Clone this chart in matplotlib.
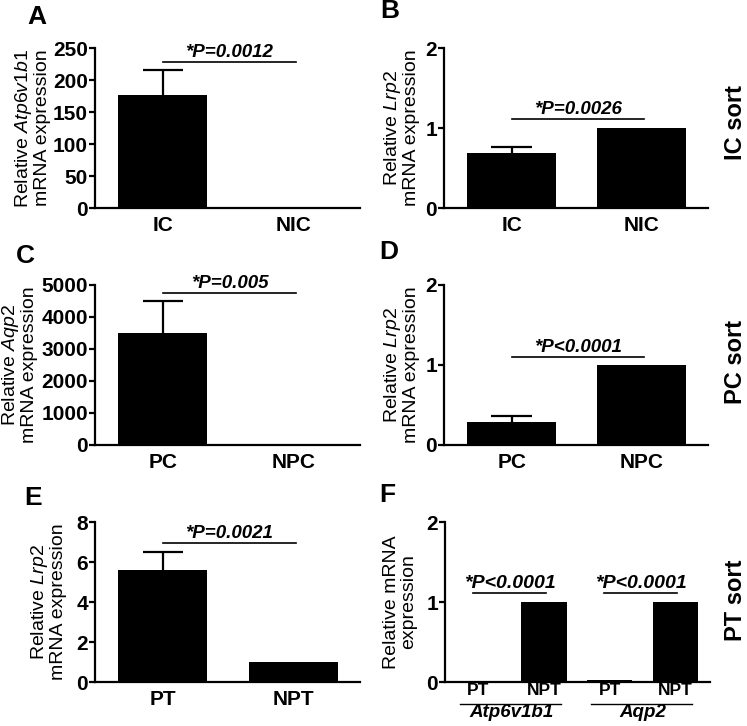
import matplotlib
matplotlib.use('Agg')
import matplotlib.pyplot as plt
from matplotlib.lines import Line2D
import matplotlib.transforms as mtransforms

plt.rcParams['font.family'] = ['Liberation Sans', 'DejaVu Sans']
plt.rcParams['mathtext.fontset'] = 'custom'
plt.rcParams['mathtext.rm'] = 'Liberation Sans'
plt.rcParams['mathtext.it'] = 'Liberation Sans:italic'
plt.rcParams['mathtext.bf'] = 'Liberation Sans:bold'

# data
a_groups = ['IC', 'NIC']
a_values = [176, 1.5]
a_err = [40, 0]
a_p = '*P=0.0012'

b_groups = ['IC', 'NIC']
b_values = [0.69, 1.0]
b_err = [0.07, 0]
b_p = '*P=0.0026'

c_groups = ['PC', 'NPC']
c_values = [3510, 1]
c_err = [990, 0]
c_p = '*P=0.005'

d_groups = ['PC', 'NPC']
d_values = [0.29, 1.0]
d_err = [0.07, 0]
d_p = '*P<0.0001'

e_groups = ['PT', 'NPT']
e_values = [5.6, 1.0]
e_err = [0.88, 0]
e_p = '*P=0.0021'

f_groups = ['PT', 'NPT', 'PT', 'NPT']
f_values = [0.01, 1.0, 0.02, 1.0]
f_genes = ['Atp6v1b1', 'Aqp2']
f_p = ['*P<0.0001', '*P<0.0001']

W, H = 747, 726
fig = plt.figure(figsize=(W / 100, H / 100), dpi=100)


def make_ax(x0, x1, y0, y1):
    return fig.add_axes([x0 / W, 1 - y1 / H, (x1 - x0) / W, (y1 - y0) / H])


def style(ax, ymax, step):
    for s in ['top', 'right']:
        ax.spines[s].set_visible(False)
    for s in ['left', 'bottom']:
        ax.spines[s].set_linewidth(1.6)
    ax.set_ylim(0, ymax)
    ax.set_yticks([i * step for i in range(int(round(ymax / step)) + 1)])
    ax.tick_params(axis='y', length=4, width=1.6, pad=1, labelsize=15)
    ax.tick_params(axis='x', length=0, pad=6, labelsize=15)
    for t in ax.get_yticklabels() + ax.get_xticklabels():
        t.set_fontweight('bold')


def sig(ax, x0, x1, y, text, size=13.5):
    ax.plot([x0, x1], [y, y], color='black', lw=1.2, clip_on=False)
    ax.annotate(text, ((x0 + x1) / 2, y), xytext=(0, 1), textcoords='offset points',
                ha='center', va='bottom', fontsize=size, fontweight='bold',
                fontstyle='italic')


def two_bar(box, groups, values, err, ymax, step, ylabel, ptext, py, lblx):
    ax = make_ax(*box)
    x = list(range(len(groups)))
    ax.bar(x, values, width=0.68, color='black')
    tops = [v + e for v, e in zip(values, err)]
    for xi, v, t, e in zip(x, values, tops, err):
        if e > 0:
            ax.vlines(xi, v, t, color='black', lw=1.6)
            ax.hlines(t, xi - 0.155, xi + 0.155, color='black', lw=1.6)
    ax.set_xlim(-0.52, 1.51)
    ax.set_xticks(x)
    ax.set_xticklabels(groups)
    style(ax, ymax, step)
    ax.set_ylabel(ylabel, fontsize=14, linespacing=1.0)
    ax.yaxis.set_label_coords(lblx, 0.5)
    sig(ax, 0, 1.02, py, ptext)
    return ax


two_bar((95, 360, 48, 208), a_groups, a_values, a_err, 250, 50,
        'Relative $\\mathit{Atp6v1b1}$\nmRNA expression', a_p, 228, -0.165)
two_bar((444, 708, 48, 208), b_groups, b_values, b_err, 2, 1,
        'Relative $\\mathit{Lrp2}$\nmRNA expression', b_p, 1.11, -0.09)
two_bar((95, 360, 285, 445), c_groups, c_values, c_err, 5000, 1000,
        'Relative $\\mathit{Aqp2}$\nmRNA expression', c_p, 4750, -0.215)
two_bar((444, 708, 285, 445), d_groups, d_values, d_err, 2, 1,
        'Relative $\\mathit{Lrp2}$\nmRNA expression', d_p, 1.10, -0.09)
two_bar((95, 360, 522, 682), e_groups, e_values, e_err, 8, 2,
        'Relative $\\mathit{Lrp2}$\nmRNA expression', e_p, 6.95, -0.105)

# panel F
ax = make_ax(445, 710, 522, 682)
x = list(range(len(f_groups)))
ax.bar(x, f_values, width=0.69, color='black')
ax.set_xlim(-0.51, 3.53)
ax.set_xticks(x)
ax.set_xticklabels(f_groups)
style(ax, 2, 1)
ax.tick_params(axis='x', labelsize=12.5, pad=1)
ax.set_ylabel('Relative mRNA\nexpression', fontsize=14, linespacing=1.0)
ax.yaxis.set_label_coords(-0.105, 0.5)
sig(ax, -0.08, 1.03, 1.11, f_p[0], size=14)
sig(ax, 1.92, 3.03, 1.11, f_p[1], size=14)
trans = mtransforms.blended_transform_factory(ax.transData, ax.transAxes)
for i, gene in enumerate(f_genes):
    c = 2 * i + 0.5
    ax.add_line(Line2D([c - 0.78, c + 0.76], [-0.135, -0.135], transform=trans,
                       color='black', lw=1.0, clip_on=False))
    ax.text(c, -0.19, gene, transform=trans, ha='center', va='center',
            fontsize=13.5, fontweight='bold', fontstyle='italic')

# panel letters
letters = ['A', 'B', 'C', 'D', 'E', 'F']
letter_pos = [(27, 17), (380, 11), (16, 256), (379, 252), (24, 498), (379, 495)]
for lab, (px, py) in zip(letters, letter_pos):
    fig.text(px / W, 1 - py / H, lab, fontsize=19, fontweight='bold', va='center', ha='left')

# sort labels
sorts = ['IC sort', 'PC sort', 'PT sort']
sort_y = [122, 362, 600]
for lab, py in zip(sorts, sort_y):
    fig.text(735 / W, 1 - py / H, lab, fontsize=17, fontweight='bold', rotation=90,
             va='center', ha='center')

fig.savefig('out.png', dpi=100)
